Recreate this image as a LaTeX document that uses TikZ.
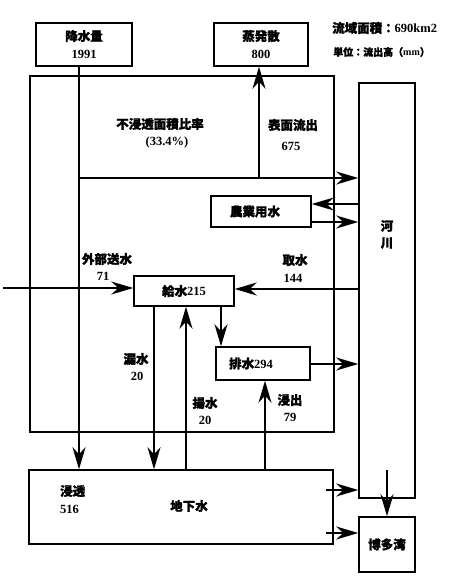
\documentclass[tikz,border=0pt]{standalone}
\usepackage{fontspec}
\setmainfont{Liberation Serif}
\newfontfamily\cjk[FakeBold=1.4]{Noto Sans CJK JP}
\usetikzlibrary{arrows.meta}
\newcommand{\J}[1]{{\cjk #1}}
\begin{document}
\begin{tikzpicture}[x=1pt,y=-1pt,
  box/.style={draw, line width=1.5pt, inner sep=0pt, align=center, font=\fontsize{12.5}{19}\selectfont\bfseries},
  arr/.style={line width=1.8pt, -{Stealth[length=22pt,width=13pt,inset=7pt]}},
  lab/.style={inner sep=0pt, align=center, font=\fontsize{12.5}{17}\selectfont\bfseries}]
\useasboundingbox (0,0) rectangle (450,581);
% boxes
\node[box, minimum width=96pt, minimum height=43pt] (rain) at (84,44.5) {\J{降水量}\\[-1pt]1991};
\node[box, minimum width=94pt, minimum height=43pt] (evap) at (261,44.5) {\J{蒸発散}\\[-1pt]800};
\node[box, minimum width=304pt, minimum height=356pt] (urban) at (182,254) {};
\node[box, minimum width=56pt, minimum height=415pt] (river) at (387,290.5) {};
\node[box, minimum width=100pt, minimum height=31pt] (agri) at (261,211.5) {\hspace*{-12pt}\J{農業用水}};
\node[box, minimum width=100pt, minimum height=30pt] (supply) at (184,291) {\J{給水}215};
\node[box, minimum width=94pt, minimum height=33pt] (drain) at (263,363.5) {\hspace*{-24pt}\J{排水}294};
\node[box, minimum width=304pt, minimum height=74pt] (gw) at (181,507) {};
\node[box, minimum width=56pt, minimum height=55pt] (bay) at (387,544.5) {\J{博多湾}};
% header text
\node[lab, anchor=west, font=\fontsize{12.5}{14}\selectfont\bfseries] (area) at (332,28) {\J{流域面積：}690km2};
\node[lab, anchor=west, font=\fontsize{10}{12}\selectfont\bfseries] (unit) at (333,52) {\J{単位：流出高（}mm\J{）}};
% connectors
\draw[arr] ([xshift=-5pt]rain.south) -- ([xshift=-5pt]rain.south |- gw.north);
\coordinate (sr) at (79,178);
\draw[arr] (sr) -- (sr -| river.west);
\coordinate (ev) at (259,178);
\draw[arr] (ev) -- (ev |- evap.south);
\draw[arr] (river.west |- 0,204) -- (agri.east |- 0,204);
\draw[arr] (agri.east |- 0,222) -- (river.west |- 0,222);
\coordinate (ext) at (3,288);
\draw[arr] (ext) -- (ext -| supply.west);
\draw[arr] (river.west |- 0,289) -- (supply.east |- 0,289);
\draw[arr] (supply.south -| 154,0) -- (gw.north -| 154,0);
\draw[arr] (gw.north -| 186,0) -- (supply.south -| 186,0);
\draw[arr] (supply.south -| 221,0) -- (drain.north -| 221,0);
\draw[arr] (drain.east |- 0,364) -- (river.west |- 0,364);
\draw[arr] (gw.north -| 265,0) -- (drain.south -| 265,0);
\draw[arr] ([xshift=-8pt]gw.east |- 0,490) -- (river.west |- 0,490);
\draw[arr] ([xshift=-8pt]gw.east |- 0,533) -- (bay.west |- 0,533);
\coordinate (rb) at (387,470);
\draw[arr] (rb) -- (bay.north);
% labels
\node[lab] (l1) at (160,124) {\J{不浸透面積比率}};
\node[lab] (l2) at (167,142) {(33.4\%)};
\node[lab] (l3) at (293,125) {\J{表面流出}};
\node[lab] (l4) at (291,146) {675};
\node[lab] (riv1) at (387,226) {\J{河}};
\node[lab] (riv2) at (387,243) {\J{川}};
\node[lab] (l5) at (107,259) {\J{外部送水}};
\node[lab] (l6) at (103,276) {71};
\node[lab] (l7) at (295,260) {\J{取水}};
\node[lab] (l8) at (293,278) {144};
\node[lab] (l9) at (136,359) {\J{漏水}};
\node[lab] (l10) at (137,376) {20};
\node[lab] (l11) at (205,403) {\J{揚水}};
\node[lab] (l12) at (205,420) {20};
\node[lab] (l13) at (290,400) {\J{浸出}};
\node[lab] (l14) at (290,417) {79};
\node[lab, anchor=west] (l15) at (60,491) {\J{浸透}};
\node[lab, anchor=west] (l16) at (60,509) {516};
\node[lab] (l17) at (189,506) {\J{地下水}};
\end{tikzpicture}
\end{document}
